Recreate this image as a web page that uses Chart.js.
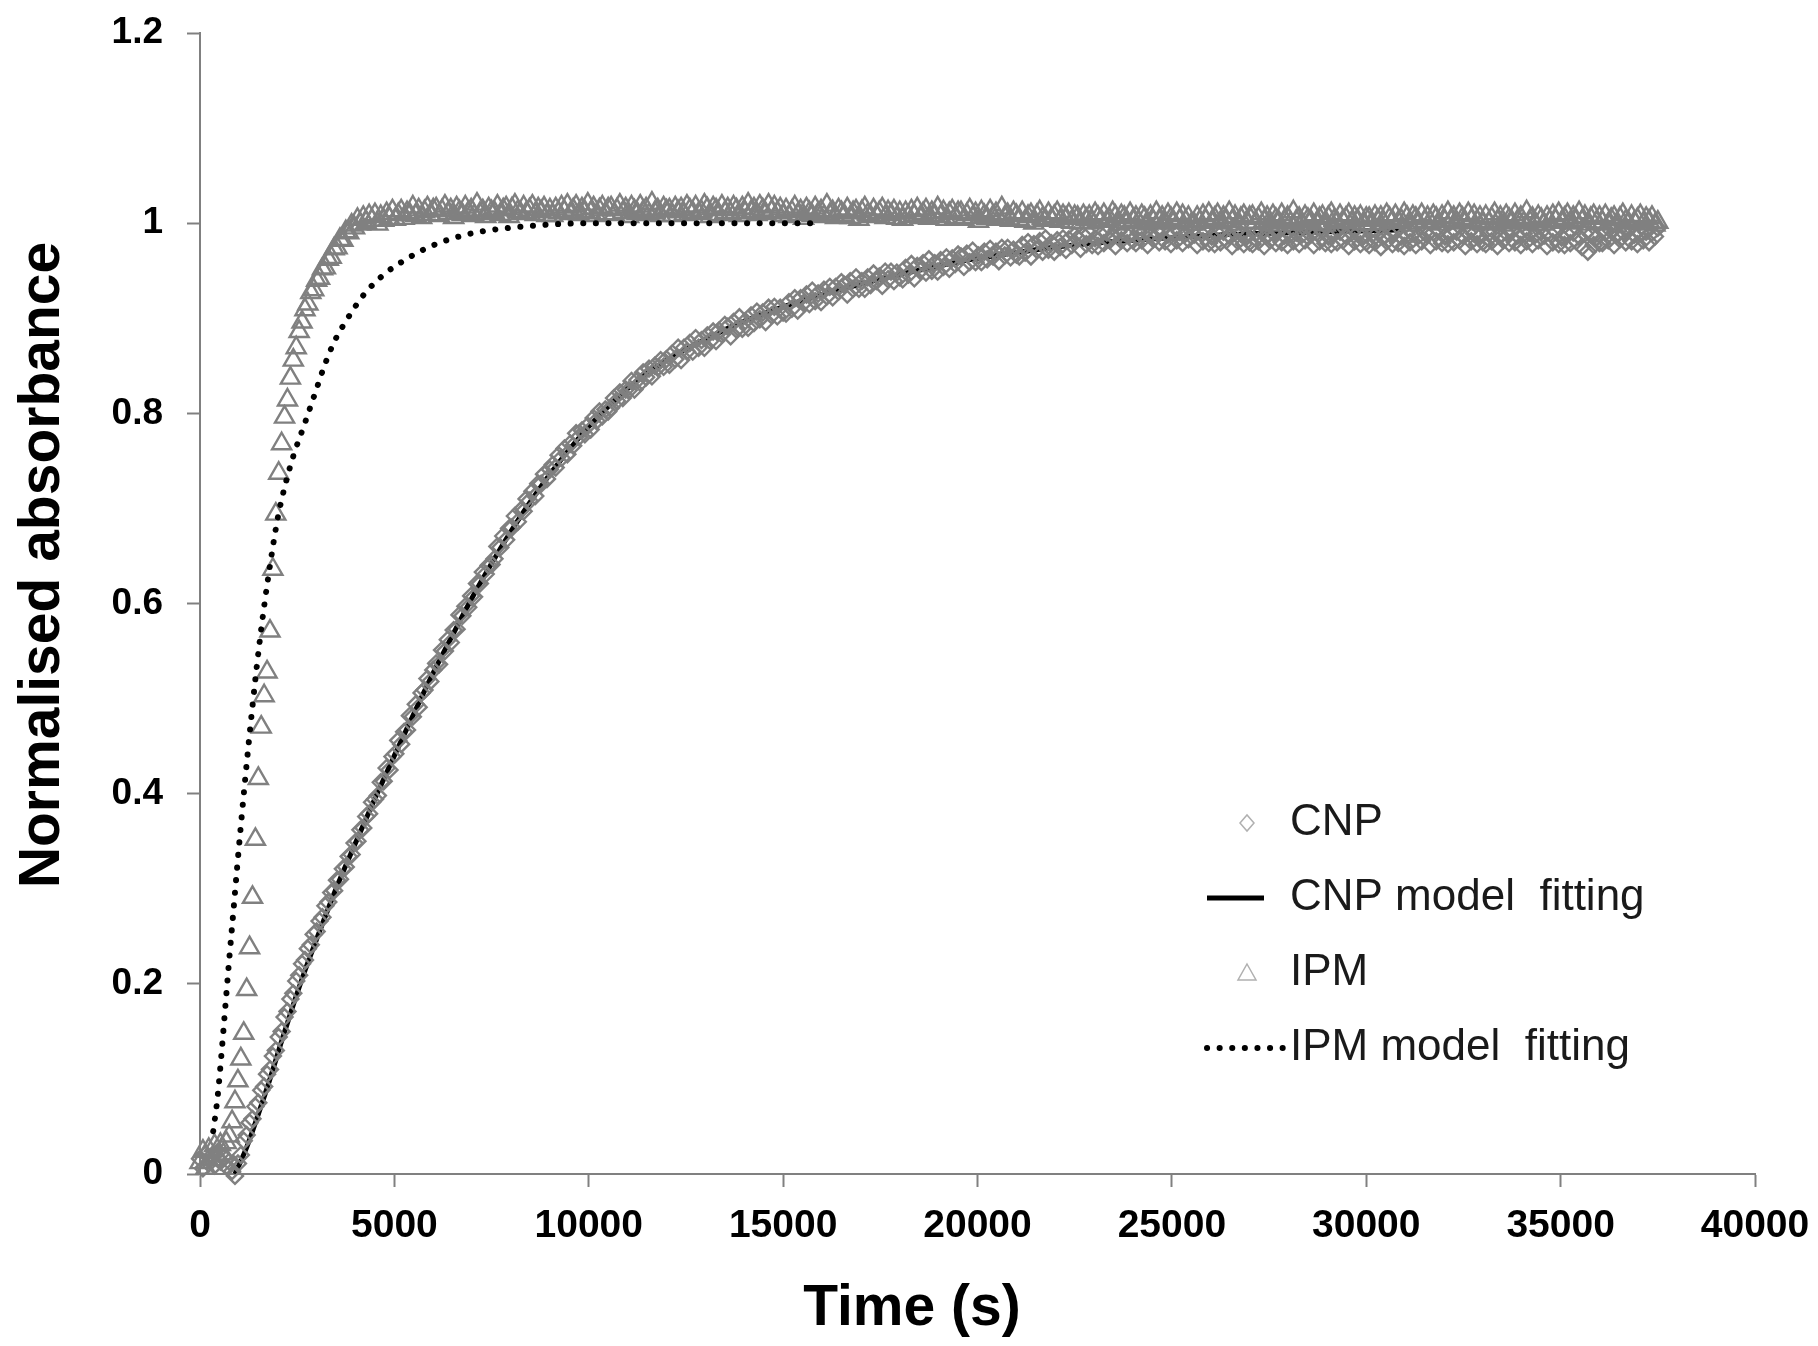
<!DOCTYPE html>
<html>
<head>
<meta charset="utf-8">
<title>Normalised absorbance vs time</title>
<script src="https://cdn.jsdelivr.net/npm/chart.js@4.4.1/dist/chart.umd.min.js"></script>
<style>
  html, body { margin: 0; padding: 0; background: #fff; }
  canvas { display: block; }
</style>
</head>
<body>
<canvas id="absorbanceChart" width="1818" height="1346"></canvas>
<script>
// Sampling times (s) shared by the two measured series
const timeS = [
  0, 75, 150, 225, 300, 375, 450, 525, 600, 675,
  750, 825, 900, 975, 1050, 1125, 1200, 1275, 1350, 1425,
  1500, 1575, 1650, 1725, 1800, 1875, 1950, 2025, 2100, 2175,
  2250, 2325, 2400, 2475, 2550, 2625, 2700, 2775, 2850, 2925,
  3000, 3075, 3150, 3225, 3300, 3375, 3450, 3525, 3600, 3675,
  3750, 3825, 3900, 3975, 4050, 4125, 4200, 4275, 4350, 4425,
  4500,
  4575, 4650, 4725, 4800, 4875, 4950, 5025, 5100, 5175, 5250, 5325, 5400, 5475, 5550, 5625, 5700, 5775, 5850, 5925, 6000,
  6075, 6150, 6225, 6300, 6375, 6450, 6525, 6600, 6675, 6750, 6825, 6900, 6975, 7050, 7125, 7200, 7275, 7350, 7425, 7500,
  7575, 7650, 7725, 7800, 7875, 7950, 8025, 8100, 8175, 8250, 8325, 8400, 8475, 8550, 8625, 8700, 8775, 8850, 8925, 9000,
  9075, 9150, 9225, 9300, 9375, 9450, 9525, 9600, 9675, 9750, 9825, 9900, 9975, 10050, 10125, 10200, 10275, 10350, 10425, 10500,
  10575, 10650, 10725, 10800, 10875, 10950, 11025, 11100, 11175, 11250, 11325, 11400, 11475, 11550, 11625, 11700, 11775, 11850, 11925, 12000,
  12075, 12150, 12225, 12300, 12375, 12450, 12525, 12600, 12675, 12750, 12825, 12900, 12975, 13050, 13125, 13200, 13275, 13350, 13425, 13500,
  13575, 13650, 13725, 13800, 13875, 13950, 14025, 14100, 14175, 14250, 14325, 14400, 14475, 14550, 14625, 14700, 14775, 14850, 14925, 15000,
  15075, 15150, 15225, 15300, 15375, 15450, 15525, 15600, 15675, 15750, 15825, 15900, 15975, 16050, 16125, 16200, 16275, 16350, 16425, 16500,
  16575, 16650, 16725, 16800, 16875, 16950, 17025, 17100, 17175, 17250, 17325, 17400, 17475, 17550, 17625, 17700, 17775, 17850, 17925, 18000,
  18075, 18150, 18225, 18300, 18375, 18450, 18525, 18600, 18675, 18750, 18825, 18900, 18975, 19050, 19125, 19200, 19275, 19350, 19425, 19500,
  19575, 19650, 19725, 19800, 19875, 19950, 20025, 20100, 20175, 20250, 20325, 20400, 20475, 20550, 20625, 20700, 20775, 20850, 20925, 21000,
  21075, 21150, 21225, 21300, 21375, 21450, 21525, 21600, 21675, 21750, 21825, 21900, 21975, 22050, 22125, 22200, 22275, 22350, 22425, 22500,
  22575, 22650, 22725, 22800, 22875, 22950, 23025, 23100, 23175, 23250, 23325, 23400, 23475, 23550, 23625, 23700, 23775, 23850, 23925, 24000,
  24075, 24150, 24225, 24300, 24375, 24450, 24525, 24600, 24675, 24750, 24825, 24900, 24975, 25050, 25125, 25200, 25275, 25350, 25425, 25500,
  25575, 25650, 25725, 25800, 25875, 25950, 26025, 26100, 26175, 26250, 26325, 26400, 26475, 26550, 26625, 26700, 26775, 26850, 26925, 27000,
  27075, 27150, 27225, 27300, 27375, 27450, 27525, 27600, 27675, 27750, 27825, 27900, 27975, 28050, 28125, 28200, 28275, 28350, 28425, 28500,
  28575, 28650, 28725, 28800, 28875, 28950, 29025, 29100, 29175, 29250, 29325, 29400, 29475, 29550, 29625, 29700, 29775, 29850, 29925, 30000,
  30075, 30150, 30225, 30300, 30375, 30450, 30525, 30600, 30675, 30750, 30825, 30900, 30975, 31050, 31125, 31200, 31275, 31350, 31425, 31500,
  31575, 31650, 31725, 31800, 31875, 31950, 32025, 32100, 32175, 32250, 32325, 32400, 32475, 32550, 32625, 32700, 32775, 32850, 32925, 33000,
  33075, 33150, 33225, 33300, 33375, 33450, 33525, 33600, 33675, 33750, 33825, 33900, 33975, 34050, 34125, 34200, 34275, 34350, 34425, 34500,
  34575, 34650, 34725, 34800, 34875, 34950, 35025, 35100, 35175, 35250, 35325, 35400, 35475, 35550, 35625, 35700, 35775, 35850, 35925, 36000,
  36075, 36150, 36225, 36300, 36375, 36450, 36525, 36600, 36675, 36750, 36825, 36900, 36975, 37050, 37125, 37200, 37275, 37350, 37425, 37500,
];

const cnpValues = [
  0.016, 0.006, 0.021, 0.011, 0.019, 0.009, 0.023, 0.013, 0.018, 0.008,
  0.013, 0.003, -0.002, 0.011, 0.020, 0.035, 0.041, 0.054, 0.058, 0.071,
  0.075, 0.088, 0.092, 0.105, 0.110, 0.124, 0.130, 0.144, 0.150, 0.165,
  0.171, 0.184, 0.190, 0.203, 0.209, 0.221, 0.225, 0.237, 0.241, 0.252,
  0.255, 0.266, 0.270, 0.282, 0.286, 0.296, 0.298, 0.309, 0.310, 0.321,
  0.323, 0.334, 0.336, 0.348, 0.350, 0.362, 0.364, 0.376, 0.379, 0.391,
  0.394,
  0.398, 0.412, 0.413, 0.427, 0.425, 0.439, 0.442, 0.456, 0.452, 0.465, 0.467, 0.482, 0.481, 0.494, 0.491, 0.506, 0.509, 0.521, 0.518, 0.530,
  0.537, 0.536, 0.551, 0.550, 0.562, 0.559, 0.572, 0.573, 0.588, 0.587, 0.597, 0.596, 0.608, 0.607, 0.621, 0.621, 0.633, 0.631, 0.640, 0.641,
  0.647, 0.660, 0.659, 0.671, 0.667, 0.679, 0.680, 0.692, 0.686, 0.698, 0.697, 0.710, 0.708, 0.718, 0.713, 0.726, 0.726, 0.736, 0.731, 0.741,
  0.746, 0.743, 0.756, 0.753, 0.763, 0.757, 0.768, 0.766, 0.779, 0.775, 0.782, 0.778, 0.787, 0.783, 0.795, 0.792, 0.802, 0.797, 0.804, 0.802,
  0.806, 0.816, 0.813, 0.822, 0.816, 0.825, 0.824, 0.834, 0.825, 0.835, 0.832, 0.843, 0.838, 0.847, 0.839, 0.850, 0.848, 0.856, 0.849, 0.857,
  0.851, 0.863, 0.857, 0.869, 0.856, 0.869, 0.865, 0.874, 0.865, 0.879, 0.869, 0.877, 0.869, 0.882, 0.876, 0.886, 0.876, 0.887, 0.883, 0.893,
  0.891, 0.881, 0.896, 0.888, 0.901, 0.889, 0.897, 0.890, 0.903, 0.895, 0.907, 0.899, 0.906, 0.896, 0.911, 0.903, 0.912, 0.902, 0.911, 0.906,
  0.905, 0.917, 0.910, 0.921, 0.908, 0.921, 0.916, 0.925, 0.915, 0.929, 0.918, 0.926, 0.917, 0.930, 0.923, 0.933, 0.922, 0.933, 0.928, 0.938,
  0.935, 0.925, 0.939, 0.931, 0.943, 0.931, 0.939, 0.931, 0.943, 0.935, 0.947, 0.939, 0.944, 0.934, 0.949, 0.941, 0.949, 0.939, 0.948, 0.943,
  0.941, 0.953, 0.946, 0.957, 0.942, 0.955, 0.950, 0.958, 0.948, 0.962, 0.950, 0.958, 0.949, 0.961, 0.954, 0.964, 0.952, 0.963, 0.957, 0.967,
  0.965, 0.954, 0.968, 0.959, 0.971, 0.959, 0.966, 0.959, 0.970, 0.962, 0.973, 0.965, 0.970, 0.960, 0.974, 0.966, 0.974, 0.964, 0.972, 0.967,
  0.965, 0.977, 0.969, 0.980, 0.965, 0.978, 0.972, 0.981, 0.970, 0.984, 0.972, 0.979, 0.970, 0.982, 0.975, 0.984, 0.972, 0.983, 0.977, 0.987,
  0.984, 0.973, 0.987, 0.978, 0.989, 0.977, 0.984, 0.976, 0.988, 0.979, 0.990, 0.982, 0.987, 0.976, 0.991, 0.982, 0.990, 0.979, 0.988, 0.982,
  0.979, 0.990, 0.982, 0.992, 0.977, 0.989, 0.983, 0.991, 0.980, 0.993, 0.981, 0.988, 0.978, 0.990, 0.982, 0.991, 0.979, 0.989, 0.983, 0.992,
  0.988, 0.977, 0.990, 0.981, 0.992, 0.979, 0.986, 0.978, 0.989, 0.980, 0.991, 0.982, 0.987, 0.976, 0.990, 0.981, 0.989, 0.978, 0.986, 0.980,
  0.978, 0.989, 0.981, 0.991, 0.976, 0.988, 0.982, 0.990, 0.979, 0.992, 0.980, 0.987, 0.977, 0.989, 0.981, 0.990, 0.978, 0.988, 0.982, 0.991,
  0.988, 0.977, 0.990, 0.981, 0.992, 0.979, 0.986, 0.978, 0.989, 0.980, 0.991, 0.982, 0.987, 0.976, 0.990, 0.981, 0.989, 0.978, 0.986, 0.980,
  0.977, 0.988, 0.980, 0.990, 0.975, 0.987, 0.981, 0.989, 0.978, 0.991, 0.979, 0.986, 0.976, 0.988, 0.980, 0.989, 0.977, 0.987, 0.981, 0.990,
  0.988, 0.977, 0.990, 0.981, 0.992, 0.979, 0.986, 0.978, 0.989, 0.980, 0.991, 0.982, 0.987, 0.976, 0.990, 0.981, 0.989, 0.978, 0.986, 0.980,
  0.978, 0.989, 0.981, 0.991, 0.976, 0.988, 0.982, 0.990, 0.979, 0.992, 0.980, 0.987, 0.977, 0.989, 0.981, 0.990, 0.978, 0.988, 0.982, 0.991,
  0.987, 0.976, 0.989, 0.980, 0.991, 0.978, 0.985, 0.977, 0.988, 0.979, 0.990, 0.981, 0.986, 0.975, 0.989, 0.970, 0.988, 0.977, 0.985, 0.979,
  0.979, 0.990, 0.982, 0.992, 0.977, 0.989, 0.983, 0.991, 0.980, 0.993, 0.981, 0.988, 0.978, 0.990, 0.982, 0.991, 0.980, 0.990, 0.986, 0.995,
];

const ipmValues = [
  0.012, 0.024, 0.006, 0.026, 0.015, 0.030, 0.019, 0.031, 0.021, 0.033,
  0.040, 0.055, 0.076, 0.098, 0.121, 0.148, 0.194, 0.238, 0.291, 0.352,
  0.416, 0.470, 0.503, 0.528, 0.571, 0.636, 0.694, 0.737, 0.768, 0.796,
  0.814, 0.837, 0.856, 0.869, 0.886, 0.896, 0.909, 0.915, 0.927, 0.930,
  0.940, 0.942, 0.952, 0.953, 0.962, 0.964, 0.973, 0.974, 0.983, 0.982,
  0.991, 0.990, 0.998, 0.995, 1.004, 0.999, 1.006, 1.001, 1.008, 1.003,
  1.009,
  0.999, 1.007, 1.003, 1.010, 1.005, 1.013, 1.004, 1.009, 1.013, 1.005, 1.011, 1.009, 1.017, 1.008, 1.014, 1.006, 1.012, 1.016, 1.009, 1.014,
  1.015, 1.008, 1.013, 1.018, 1.010, 1.014, 1.006, 1.016, 1.012, 1.009, 1.017, 1.011, 1.014, 1.008, 1.020, 1.010, 1.013, 1.007, 1.015, 1.012,
  1.011, 1.018, 1.009, 1.014, 1.016, 1.007, 1.015, 1.019, 1.012, 1.010, 1.017, 1.011, 1.014, 1.018, 1.009, 1.015, 1.012, 1.016, 1.008, 1.014,
  1.008, 1.015, 1.011, 1.017, 1.012, 1.019, 1.010, 1.014, 1.018, 1.009, 1.015, 1.012, 1.020, 1.011, 1.016, 1.008, 1.014, 1.017, 1.010, 1.015,
  1.016, 1.009, 1.014, 1.019, 1.011, 1.015, 1.007, 1.017, 1.013, 1.010, 1.018, 1.012, 1.015, 1.009, 1.021, 1.011, 1.014, 1.008, 1.016, 1.013,
  1.014, 1.008, 1.016, 1.012, 1.015, 1.009, 1.018, 1.014, 1.011, 1.017, 1.010, 1.012, 1.019, 1.015, 1.007, 1.016, 1.014, 1.009, 1.018, 1.011,
  1.015, 1.010, 1.017, 1.014, 1.008, 1.016, 1.011, 1.020, 1.012, 1.015, 1.009, 1.018, 1.014, 1.010, 1.019, 1.012, 1.017, 1.011, 1.015, 1.008,
  1.014, 1.007, 1.012, 1.017, 1.009, 1.013, 1.005, 1.015, 1.011, 1.008, 1.016, 1.010, 1.013, 1.007, 1.019, 1.009, 1.012, 1.006, 1.014, 1.011,
  1.008, 1.015, 1.006, 1.011, 1.013, 1.004, 1.012, 1.016, 1.009, 1.007, 1.014, 1.008, 1.011, 1.015, 1.006, 1.012, 1.009, 1.013, 1.005, 1.011,
  1.004, 1.011, 1.007, 1.013, 1.008, 1.015, 1.006, 1.010, 1.014, 1.005, 1.011, 1.008, 1.016, 1.007, 1.012, 1.004, 1.010, 1.013, 1.006, 1.011,
  1.011, 1.004, 1.009, 1.014, 1.006, 1.010, 1.002, 1.012, 1.008, 1.005, 1.013, 1.007, 1.010, 1.004, 1.016, 1.006, 1.009, 1.003, 1.011, 1.008,
  1.004, 1.011, 1.002, 1.007, 1.009, 1.000, 1.008, 1.012, 1.005, 1.003, 1.010, 1.004, 1.007, 1.011, 1.002, 1.008, 1.005, 1.009, 1.001, 1.007,
  1.006, 1.000, 1.008, 1.004, 1.007, 1.001, 1.010, 1.006, 1.003, 1.009, 1.002, 1.004, 1.011, 1.007, 0.999, 1.008, 1.006, 1.001, 1.010, 1.003,
  1.006, 1.001, 1.008, 1.005, 0.999, 1.007, 1.002, 1.011, 1.003, 1.006, 1.000, 1.009, 1.005, 1.001, 1.010, 1.003, 1.008, 1.002, 1.006, 0.999,
  0.999, 1.006, 1.002, 1.008, 1.003, 1.010, 1.001, 1.005, 1.009, 1.000, 1.006, 1.003, 1.011, 1.002, 1.007, 0.999, 1.005, 1.008, 1.001, 1.006,
  1.007, 1.000, 1.005, 1.010, 1.002, 1.006, 0.998, 1.008, 1.004, 1.001, 1.009, 1.003, 1.006, 1.000, 1.012, 1.002, 1.005, 0.999, 1.007, 1.004,
  1.002, 1.009, 1.000, 1.005, 1.007, 0.998, 1.006, 1.010, 1.003, 1.001, 1.008, 1.002, 1.005, 1.009, 1.000, 1.006, 1.003, 1.007, 0.999, 1.005,
  1.005, 0.999, 1.007, 1.003, 1.006, 1.000, 1.009, 1.005, 1.002, 1.008, 1.001, 1.003, 1.010, 1.006, 0.998, 1.007, 1.005, 1.000, 1.009, 1.002,
  1.006, 1.001, 1.008, 1.005, 0.999, 1.007, 1.002, 1.011, 1.003, 1.006, 1.000, 1.009, 1.005, 1.001, 1.010, 1.003, 1.008, 1.002, 1.006, 0.999,
  1.007, 1.000, 1.005, 1.010, 1.002, 1.006, 0.998, 1.008, 1.004, 1.001, 1.009, 1.003, 1.006, 1.000, 1.012, 1.002, 1.005, 0.999, 1.007, 1.004,
  0.999, 1.006, 1.002, 1.008, 1.003, 1.010, 1.001, 1.005, 1.009, 1.000, 1.006, 1.003, 1.011, 1.002, 1.007, 0.999, 1.005, 1.008, 1.001, 1.006,
  1.001, 1.008, 0.999, 1.004, 1.006, 0.997, 1.005, 1.009, 1.002, 1.000, 1.007, 1.001, 1.004, 1.008, 0.999, 1.005, 1.002, 1.006, 0.998, 1.001,
];

// Model fitting curves
const cnpFitTime = [
  900, 1200, 1500, 1800, 2100, 2400, 2700, 3000, 3500, 4000,
  4500, 5000, 5500, 6000, 6500, 7000, 7500, 8000, 8500, 9000,
  9500, 10000, 11000, 12000, 13000, 14000, 15000, 16000, 17000, 18000,
  19000, 20000, 21000, 22000, 23000, 24000, 25000, 26000, 27000, 28000,
  29000, 30000, 31000,
];
const cnpFitValues = [
  0.0, 0.028, 0.063, 0.1, 0.14, 0.178, 0.214, 0.247, 0.3, 0.348,
  0.395, 0.44, 0.484, 0.527, 0.567, 0.606, 0.642, 0.676, 0.707, 0.736,
  0.762, 0.786, 0.826, 0.856, 0.878, 0.897, 0.912, 0.925, 0.936, 0.946,
  0.955, 0.963, 0.969, 0.975, 0.979, 0.982, 0.985, 0.987, 0.989, 0.990,
  0.991, 0.992, 0.993,
];

const ipmFitTime = [
  340, 450, 550, 650, 750, 850, 950, 1050, 1150, 1250,
  1350, 1450, 1550, 1650, 1800, 2000, 2200, 2400, 2700, 3000,
  3200, 3450, 3800, 4200, 4700, 5300, 5900, 6500, 7200, 8200,
  9200, 10200, 13000, 16000,
];
const ipmFitValues = [
  0.045, 0.08, 0.125, 0.175, 0.225, 0.272, 0.32, 0.366, 0.41, 0.452,
  0.492, 0.53, 0.565, 0.597, 0.64, 0.69, 0.726, 0.755, 0.79, 0.826,
  0.85, 0.875, 0.9, 0.924, 0.945, 0.962, 0.975, 0.984, 0.991, 0.996,
  0.999, 1.0, 1.0, 1.0,
];

const xTickLabels = ["0", "5000", "10000", "15000", "20000", "25000", "30000", "35000", "40000"];
const yTickLabels = ["0", "0.2", "0.4", "0.6", "0.8", "1", "1.2"];

const markerGrey = "rgb(128, 128, 128)";
const axisGrey = "rgb(128, 128, 128)";
const fontFamily = '"Liberation Sans", Arial, sans-serif';

function toPoints(xs, ys) {
  return xs.map((x, i) => ({ x: x, y: ys[i] }));
}

// Axis titles and the in-plot legend
const overlayText = {
  id: "overlayText",
  afterDraw(chart) {
    const ctx = chart.ctx;
    const area = chart.chartArea;
    ctx.save();
    ctx.fillStyle = "#000";
    ctx.textAlign = "center";
    ctx.textBaseline = "middle";
    ctx.font = "bold 57px " + fontFamily;
    ctx.fillText("Time (s)", area.left + 712, area.bottom + 135);

    ctx.translate(43, 565);
    ctx.rotate(-Math.PI / 2);
    ctx.fillText("Normalised absorbance", 0, 0);
    ctx.restore();

    // legend
    ctx.save();
    const markX = 1247;
    const textX = 1290;
    chart.data.datasets.forEach((ds, i) => {
      const y = 823 + i * 75;
      ctx.beginPath();
      if (ds.pointStyle === "rectRot") {
        ctx.strokeStyle = "#b0b0b0";
        ctx.lineWidth = 1.5;
        ctx.moveTo(markX - 7, y);
        ctx.lineTo(markX, y - 8);
        ctx.lineTo(markX + 7, y);
        ctx.lineTo(markX, y + 8);
        ctx.closePath();
        ctx.stroke();
      } else if (ds.pointStyle === "triangle") {
        ctx.strokeStyle = "#b0b0b0";
        ctx.lineWidth = 1.5;
        ctx.moveTo(markX, y - 9);
        ctx.lineTo(markX + 9, y + 7);
        ctx.lineTo(markX - 9, y + 7);
        ctx.closePath();
        ctx.stroke();
      } else {
        ctx.strokeStyle = "#000";
        ctx.lineWidth = ds.borderWidth;
        ctx.lineCap = ds.borderDash ? "round" : "butt";
        ctx.setLineDash(ds.borderDash || []);
        ctx.moveTo(1207, y);
        ctx.lineTo(ds.borderDash ? 1284 : 1264, y);
        ctx.stroke();
        ctx.setLineDash([]);
      }
      ctx.fillStyle = "#1a1a1a";
      ctx.font = "44px " + fontFamily;
      ctx.textAlign = "left";
      ctx.textBaseline = "middle";
      ctx.fillText(ds.label, textX, y);
    });
    ctx.restore();
  },
};

const ctx = document.getElementById("absorbanceChart").getContext("2d");
const absorbanceChart = new Chart(ctx, {
  type: "scatter",
  data: {
    datasets: [
      {
        label: "CNP",
        data: toPoints(timeS, cnpValues),
        pointStyle: "rectRot",
        pointRadius: 8,
        pointBorderWidth: 2.4,
        pointBorderColor: markerGrey,
        pointBackgroundColor: "rgba(0, 0, 0, 0)",
        clip: false,
        order: 1,
      },
      {
        label: "CNP model  fitting",
        data: toPoints(cnpFitTime, cnpFitValues),
        showLine: true,
        pointRadius: 0,
        borderColor: "#000",
        borderWidth: 5,
        cubicInterpolationMode: "monotone",
        order: 3,
      },
      {
        label: "IPM",
        data: toPoints(timeS, ipmValues),
        pointStyle: "triangle",
        pointRadius: 11,
        pointBorderWidth: 2.4,
        pointBorderColor: markerGrey,
        pointBackgroundColor: "rgba(0, 0, 0, 0)",
        clip: false,
        order: 2,
      },
      {
        label: "IPM model  fitting",
        data: toPoints(ipmFitTime, ipmFitValues),
        showLine: true,
        pointRadius: 0,
        borderColor: "#000",
        borderWidth: 6,
        borderDash: [0.1, 12.5],
        borderCapStyle: "round",
        cubicInterpolationMode: "monotone",
        order: 0,
      },
    ],
  },
  options: {
    responsive: false,
    animation: false,
    devicePixelRatio: 1,
    events: [],
    layout: {
      padding: { top: 33, right: 63, bottom: 0, left: 0 },
    },
    plugins: {
      legend: { display: false },
      tooltip: { enabled: false },
    },
    scales: {
      x: {
        type: "linear",
        min: 0,
        max: 40000,
        ticks: {
          stepSize: 5000,
          padding: 16,
          color: "#000",
          maxRotation: 0,
          autoSkip: false,
          font: { family: fontFamily, size: 39, weight: "bold" },
          callback: (value, index) => xTickLabels[index],
        },
        grid: {
          drawOnChartArea: false,
          tickLength: 13,
          tickColor: axisGrey,
          tickWidth: 2,
        },
        border: { color: axisGrey, width: 2 },
        afterFit: (scale) => {
          scale.height = 172;
          scale.paddingLeft = 0;
          scale.paddingRight = 0;
        },
      },
      y: {
        min: 0,
        max: 1.2,
        ticks: {
          stepSize: 0.2,
          padding: 24,
          color: "#000",
          font: { family: fontFamily, size: 37, weight: "bold" },
          callback: (value, index) => yTickLabels[index],
        },
        grid: {
          drawOnChartArea: false,
          tickLength: 13,
          tickColor: axisGrey,
          tickWidth: 2,
        },
        border: { color: axisGrey, width: 2 },
        afterFit: (scale) => {
          scale.width = 200;
          scale.paddingTop = 0;
          scale.paddingBottom = 0;
        },
      },
    },
  },
  plugins: [overlayText],
});
</script>
</body>
</html>
